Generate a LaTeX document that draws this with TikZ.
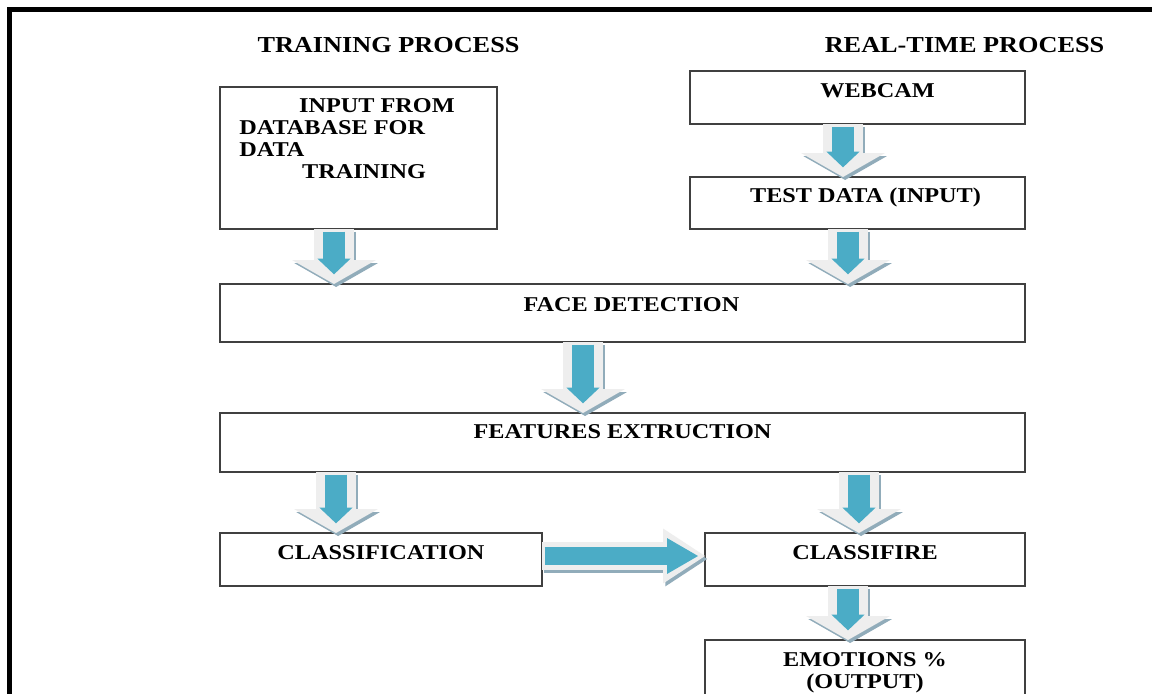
\documentclass[tikz,border=0pt]{standalone}
\usepackage{fontspec}
\setmainfont{Liberation Serif}[FakeStretch=1.15]
\definecolor{FlowTeal}{RGB}{75, 172, 198}
\definecolor{FlowRim}{RGB}{238, 238, 238}
\definecolor{FlowShade}{RGB}{145, 172, 186}
\usetikzlibrary{arrows.meta, positioning, calc}

\begin{document}
\begin{tikzpicture}[x=0.02cm, y=-0.02cm,
	box/.style={draw=black!75, line width=0.8pt, inner sep=0pt, outer sep=0pt},
	txt/.style={font=\bfseries\fontsize{12}{12.5}\selectfont, inner sep=0pt, anchor=base},
	hdr/.style={font=\bfseries\fontsize{13}{14}\selectfont, inner sep=0pt, anchor=base},
	dshade/.style={FlowShade, line width=22.7pt, -{Triangle[width=47.6pt, length=13.6pt, line width=0pt]}, transform canvas={xshift=1.2pt, yshift=-1.7pt}},
	drim/.style={FlowRim, line width=22.7pt, -{Triangle[width=47.6pt, length=13.6pt, line width=0pt]}},
	dcore/.style={FlowTeal, line width=12.5pt, -{Triangle[width=19pt, length=9pt, line width=0pt]}, shorten <=1.5pt, shorten >=5.5pt},
	hshade/.style={FlowShade, line width=15.9pt, -{Triangle[width=31.2pt, length=23.8pt, line width=0pt]}, transform canvas={xshift=1.2pt, yshift=-1.7pt}},
	hrim/.style={FlowRim, line width=15.9pt, -{Triangle[width=31.2pt, length=23.8pt, line width=0pt]}},
	hcore/.style={FlowTeal, line width=10.2pt, -{Triangle[width=20.4pt, length=17.6pt, line width=0pt]}, shorten <=1.5pt, shorten >=4pt}]
	\useasboundingbox (0,0) rectangle (1152,693);
	\clip (0,0) rectangle (1152,693);
	\fill[white] (0,0) rectangle (1152,693);
	\draw[line width=2.3pt] (9.5,9.5) rectangle (1200,750);
	% headings
	\node[hdr] (trainhd) at (388.5,52) {TRAINING PROCESS};
	\node[hdr] (realhd) at (964.5,52) {REAL-TIME PROCESS};
	% boxes
	\node[box, minimum width=5.54cm, minimum height=2.84cm] (inp) at (358.5,158) {};
	\node[box, minimum width=6.7cm, minimum height=1.06cm] (web) at (857.5,97.5) {};
	\node[box, minimum width=6.7cm, minimum height=1.04cm] (test) at (857.5,203) {};
	\node[box, minimum width=16.1cm, minimum height=1.16cm] (face) at (622.5,313) {};
	\node[box, minimum width=16.1cm, minimum height=1.18cm] (feat) at (622.5,442.5) {};
	\node[box, minimum width=6.44cm, minimum height=1.06cm] (cls) at (381,559.5) {};
	\node[box, minimum width=6.4cm, minimum height=1.06cm] (clf) at (865,559.5) {};
	\node[box, minimum width=6.4cm, minimum height=1.6cm] (emo) at (865,680) {};
	% box texts
	\node[txt, anchor=north west, align=left] (inptxt) at (239,98) {\hspace*{34pt}INPUT FROM\\DATABASE FOR\\DATA\\\hspace*{35.7pt}TRAINING};
	\node[txt] (webtxt) at ($(web.north)+(20,26)$) {WEBCAM};
	\node[txt] (testtxt) at ($(test.north)+(8,25)$) {TEST DATA (INPUT)};
	\node[txt] (facetxt) at ($(face.north)+(9,27)$) {FACE DETECTION};
	\node[txt] (feattxt) at ($(feat.north)+(0,25)$) {FEATURES EXTRUCTION};
	\node[txt] (clstxt) at ($(cls.north)+(0,26)$) {CLASSIFICATION};
	\node[txt] (clftxt) at ($(clf.north)+(0,26)$) {CLASSIFIRE};
	\node[txt, anchor=north, align=center] (emotxt) at (865,652.5) {EMOTIONS \%\\(OUTPUT)};
	% block arrows
	\draw[dshade] (334,0 |- inp.south) -- (334,0 |- face.north); \draw[drim] (334,0 |- inp.south) -- (334,0 |- face.north); \draw[dcore] (334,0 |- inp.south) -- (334,0 |- face.north);
	\draw[dshade] (848,0 |- test.south) -- (848,0 |- face.north); \draw[drim] (848,0 |- test.south) -- (848,0 |- face.north); \draw[dcore] (848,0 |- test.south) -- (848,0 |- face.north);
	\draw[dshade] (843,0 |- web.south) -- (843,0 |- test.north); \draw[drim] (843,0 |- web.south) -- (843,0 |- test.north); \draw[dcore] (843,0 |- web.south) -- (843,0 |- test.north);
	\draw[dshade] (583,0 |- face.south) -- (583,0 |- feat.north); \draw[drim] (583,0 |- face.south) -- (583,0 |- feat.north); \draw[dcore] (583,0 |- face.south) -- (583,0 |- feat.north);
	\draw[dshade] (336,0 |- feat.south) -- (336,0 |- cls.north); \draw[drim] (336,0 |- feat.south) -- (336,0 |- cls.north); \draw[dcore] (336,0 |- feat.south) -- (336,0 |- cls.north);
	\draw[dshade] (859,0 |- feat.south) -- (859,0 |- clf.north); \draw[drim] (859,0 |- feat.south) -- (859,0 |- clf.north); \draw[dcore] (859,0 |- feat.south) -- (859,0 |- clf.north);
	\draw[dshade] (848,0 |- clf.south) -- (848,0 |- emo.north); \draw[drim] (848,0 |- clf.south) -- (848,0 |- emo.north); \draw[dcore] (848,0 |- clf.south) -- (848,0 |- emo.north);
	\draw[hshade] (cls.east |- 0,556) -- (clf.west |- 0,556); \draw[hrim] (cls.east |- 0,556) -- (clf.west |- 0,556); \draw[hcore] (cls.east |- 0,556) -- (clf.west |- 0,556);
\end{tikzpicture}
\end{document}
